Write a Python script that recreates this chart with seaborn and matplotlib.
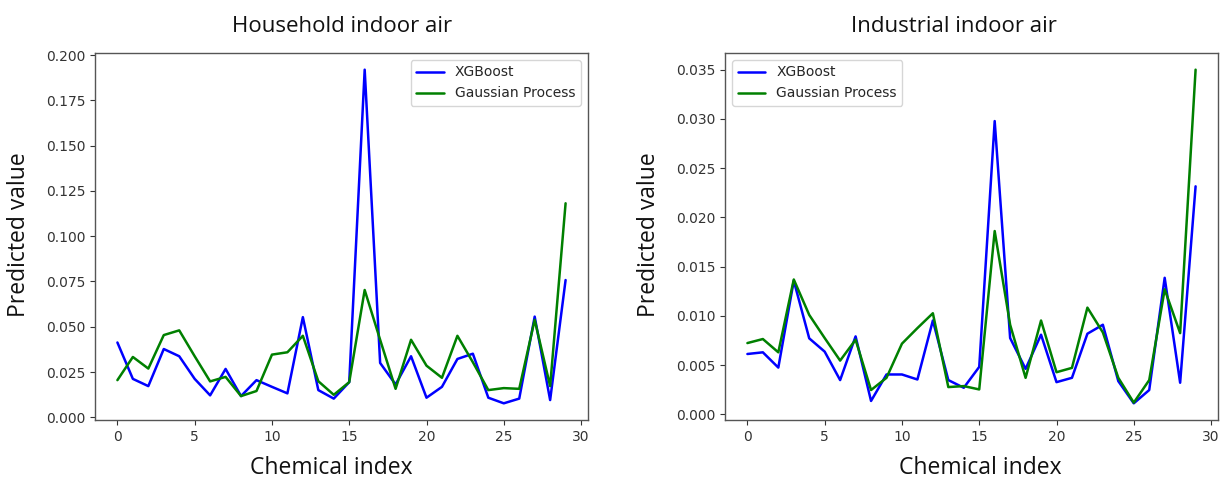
import numpy as np
import pandas as pd
import matplotlib
matplotlib.use("Agg")
import matplotlib.pyplot as plt
import seaborn as sns

chem_index = list(range(30))

household_xgb = [0.0413, 0.0212, 0.0172, 0.0377, 0.0337, 0.0212, 0.0121, 0.0267, 0.0117, 0.0205,
                 0.0168, 0.0132, 0.0553, 0.0150, 0.0103, 0.0194, 0.1920, 0.0300, 0.0181, 0.0337,
                 0.0108, 0.0168, 0.0322, 0.0351, 0.0108, 0.0077, 0.0103, 0.0556, 0.0095, 0.0758]
household_gp = [0.0205, 0.0333, 0.0269, 0.0454, 0.0480, 0.0337, 0.0198, 0.0223, 0.0117, 0.0145,
                0.0346, 0.0359, 0.0450, 0.0199, 0.0124, 0.0194, 0.0703, 0.0428, 0.0157, 0.0428,
                0.0285, 0.0218, 0.0450, 0.0304, 0.0150, 0.0161, 0.0157, 0.0538, 0.0172, 0.1182]

industrial_xgb = [0.00612, 0.00629, 0.00474, 0.01356, 0.00771, 0.00636, 0.00347, 0.00791, 0.00135, 0.00404,
                  0.00404, 0.00353, 0.00952, 0.00347, 0.00269, 0.00481, 0.02978, 0.00774, 0.00461, 0.00808,
                  0.00326, 0.00370, 0.00818, 0.00909, 0.00336, 0.00111, 0.00246, 0.01386, 0.00320, 0.02315]
industrial_gp = [0.00723, 0.00764, 0.00629, 0.01369, 0.01009, 0.00774, 0.00545, 0.00757, 0.00246, 0.00370,
                 0.00717, 0.00875, 0.01026, 0.00276, 0.00286, 0.00252, 0.01861, 0.00909, 0.00370, 0.00952,
                 0.00427, 0.00471, 0.01083, 0.00831, 0.00370, 0.00118, 0.00347, 0.01269, 0.00824, 0.03500]

models = ["XGBoost", "Gaussian Process"]
titles = ["Household indoor air", "Industrial indoor air"]
palette = {"XGBoost": "blue", "Gaussian Process": "green"}

sns.set_style("ticks")
plt.rcParams["font.family"] = ["DejaVu Sans"]

def long_df(xgb, gp):
    return pd.DataFrame({
        "index": chem_index * 2,
        "value": xgb + gp,
        "model": [models[0]] * len(xgb) + [models[1]] * len(gp),
    })

fig = plt.figure(figsize=(12.2, 4.8), dpi=100)
ax1 = fig.add_axes([95/1220, 1 - 420/480, 493/1220, 367/480])
ax2 = fig.add_axes([725/1220, 1 - 420/480, 493/1220, 367/480])

label_font = "Open Sans"

for ax, (xgb, gp), title, loc, tx, lx, yx in [
    (ax1, (household_xgb, household_gp), titles[0], "upper right", 342, 331, 19),
    (ax2, (industrial_xgb, industrial_gp), titles[1], "upper left", 954, 980, 649),
]:
    df = long_df(xgb, gp)
    sns.lineplot(data=df, x="index", y="value", hue="model", palette=palette,
                 linewidth=1.8, ax=ax)
    ax.set_xticks([0, 5, 10, 15, 20, 25, 30])
    ax.set_xlabel("")
    ax.set_ylabel("")
    ax.tick_params(labelsize=10, length=3.5, width=0.8, colors="#333333")
    for s in ax.spines.values():
        s.set_color("#555555")
        s.set_linewidth(1.0)
    ax.yaxis.set_major_formatter(matplotlib.ticker.FormatStrFormatter("%.3f"))
    leg = ax.legend(loc=loc, fontsize=10, frameon=True)
    leg.set_title(None)
    fig.text(tx/1220, 1 - 26/480, title, ha="center", va="center",
             fontsize=16, family=label_font, color="#111111")
    fig.text(lx/1220, 1 - 468/480, "Chemical index", ha="center", va="center",
             fontsize=16.5, family=label_font, color="#111111")
    fig.text(yx/1220, 1 - 235/480, "Predicted value", ha="center", va="center",
             rotation=90, fontsize=16.5, family=label_font, color="#111111")

fig.savefig("out.png", dpi=100)
